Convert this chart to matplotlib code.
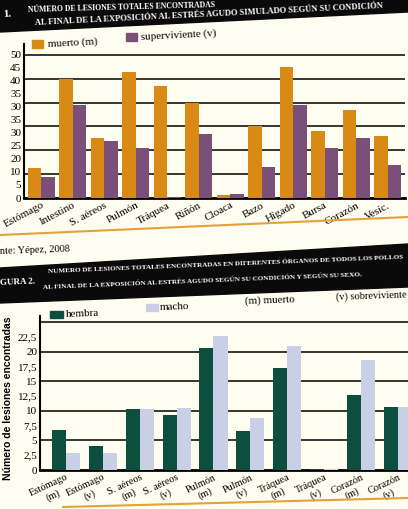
import numpy as np
import matplotlib.pyplot as plt
from matplotlib.patches import Polygon, Rectangle

W, H = 408, 509

# Figura 1: lesiones por organo segun condicion
organos = ["Estómago", "Intestino", "S. aéreos", "Pulmón", "Tráquea", "Riñón",
           "Cloaca", "Bazo", "Hígado", "Bursa", "Corazón", "Vesíc."]
muerto = [12.5, 50, 25, 53, 47, 40, 1.4, 30, 55, 28, 37, 26]
superviviente = [9, 39, 24, 21, 0.6, 27, 1.8, 13, 39, 21, 25, 14]
ticks1 = ["0", "5", "10", "20", "25", "30", "35", "30", "35", "40", "45", "50"]
rejilla1 = [10, 20, 30, 40, 50, 60]

# Figura 2: lesiones por organo segun condicion y sexo
grupos = ["Estómago\n(m)", "Estómago\n(v)", "S. aéreos\n(m)", "S. aéreos\n(v)",
          "Pulmón\n(m)", "Pulmón\n(v)", "Tráquea\n(m)", "Tráquea\n(v)",
          "Corazón\n(m)", "Corazón\n(v)"]
hembra = [6.8, 4.0, 10.3, 9.3, 20.6, 6.6, 17.2, 0.2, 12.6, 10.6]
macho = [2.9, 2.8, 10.3, 10.4, 22.6, 8.8, 21.0, 0.2, 18.5, 10.7]
ticks2 = ["0", "2,5", "5", "7,5", "10", "12,5", "15", "17,5", "20", "22,5"]
rejilla2 = [5, 10, 15, 20, 25]

NARANJA = "#d98a14"
MORADO = "#7a5079"
VERDE = "#0d4f3f"
LILA = "#c9cfe4"
CREMA = "#fffdf0"

plt.rcParams["font.family"] = ["Liberation Serif", "DejaVu Serif"]


def caja(x0, y0, x1, y1):
    # caja en pixeles (origen arriba a la izquierda) -> fraccion de figura
    return [x0 / W, 1 - y1 / H, (x1 - x0) / W, (y1 - y0) / H]


def estilo(ax, rejilla):
    ax.set_facecolor(CREMA)
    for lado in ["top", "right"]:
        ax.spines[lado].set_visible(False)
    ax.spines["left"].set_linewidth(1.5)
    ax.spines["bottom"].set_linewidth(2)
    x0, x1 = ax.get_xlim()
    ax.hlines(rejilla, x0, x1, colors="black", linewidth=1.1, zorder=2)
    ax.set_xlim(x0, x1)
    ax.tick_params(length=0, pad=2, labelsize=8)


fig = plt.figure(figsize=(W / 100, H / 100), dpi=100)
fig.patch.set_facecolor(CREMA)

# ---- grafico 1
ax1 = fig.add_axes(caja(24, 44, 405, 198))
x1 = np.arange(len(organos))
ax1.bar(x1 - 0.215, muerto, 0.43, color=NARANJA, zorder=3)
ax1.bar(x1 + 0.215, superviviente, 0.43, color=MORADO, zorder=3)
ax1.set_xlim(-0.55, len(organos) - 0.45)
ax1.set_ylim(0, 64.6)
estilo(ax1, rejilla1)
ax1.set_yticks(np.linspace(0, 60, 12), ticks1)
ax1.set_xticks(x1, organos, rotation=28, ha="right", rotation_mode="anchor", fontsize=8)

# ---- grafico 2
ax2 = fig.add_axes(caja(40, 316, 408, 470))
x2 = np.arange(len(grupos))
ax2.bar(x2 - 0.19, hembra, 0.38, color=VERDE, zorder=3)
ax2.bar(x2 + 0.19, macho, 0.38, color=LILA, zorder=3)
ax2.set_xlim(-0.7, 9.27)
ax2.set_ylim(0, 26)
estilo(ax2, rejilla2)
ax2.set_yticks(np.arange(0, 22.6, 2.5), ticks2)
ax2.set_xticks(x2, grupos, rotation=25, ha="right", va="top",
               rotation_mode="anchor", multialignment="center", fontsize=7.5)

# ---- adornos de pagina
deco = fig.add_axes([0, 0, 1, 1], zorder=5)
deco.set_xlim(0, W)
deco.set_ylim(H, 0)
deco.axis("off")

deco.text(8, 480, "Número de lesiones encontradas", rotation=90, ha="center",
          va="bottom", fontsize=7.5, fontweight="bold", family="Liberation Sans",
          zorder=1)

deco.add_patch(Polygon([(0, 0), (W, 0), (W, 12), (0, 32)], color="#0a0a0a", zorder=3))
deco.add_patch(Polygon([(0, 268), (W, 244), (W, 287), (0, 303)], color="#0a0a0a", zorder=3))

blanco = dict(color="white", fontweight="bold", ha="left", va="center",
              rotation_mode="anchor", zorder=4)
deco.text(3, 15, "1.", fontsize=8, rotation=3, **blanco)
deco.text(28, 10, "NÚMERO DE LESIONES TOTALES ENCONTRADAS",
          fontsize=5.6, rotation=1.5, **blanco)
deco.text(35, 23, "AL FINAL DE LA EXPOSICIÓN AL ESTRÉS AGUDO SIMULADO SEGÚN SU CONDICIÓN",
          fontsize=6.1, rotation=2.8, **blanco)
deco.text(0, 283, "GURA 2.", fontsize=6.5, rotation=2.5, **blanco)
deco.text(48, 271, "NUMERO DE LESIONES TOTALES ENCONTRADAS EN DIFERENTES ÓRGANOS DE TODOS LOS POLLOS",
          fontsize=5.1, rotation=2.3, **blanco)
deco.text(43, 287, "AL FINAL DE LA EXPOSICIÓN AL ESTRÉS AGUDO SEGÚN SU CONDICIÓN Y SEGÚN SU SEXO.",
          fontsize=5.1, rotation=2.3, **blanco)

deco.plot([0, W], [235, 217], color="#e3a23a", lw=1.5, zorder=2)
deco.plot([63, W], [507, 498], color="#e3a23a", lw=1.5, zorder=2)
deco.text(0, 250, "nte: Yépez, 2008", fontsize=7.5, ha="left", va="center", rotation=2)

# leyendas
deco.add_patch(Rectangle((32, 40), 11, 8, color=NARANJA))
deco.text(47, 43, "muerto (m)", fontsize=8, ha="left", va="center", rotation=3)
deco.add_patch(Rectangle((126, 33), 11, 8, color=MORADO))
deco.text(140, 35, "superviviente (v)", fontsize=8, ha="left", va="center", rotation=3)

deco.add_patch(Rectangle((50, 311), 13, 7, color=VERDE))
deco.text(66, 314, "hembra", fontsize=8, ha="left", va="center", rotation=2)
deco.add_patch(Rectangle((146, 304), 12, 7, color=LILA))
deco.text(160, 307, "macho", fontsize=8, ha="left", va="center", rotation=2)
deco.text(245, 300, "(m) muerto", fontsize=8, ha="left", va="center", rotation=2)
deco.text(336, 296, "(v) sobreviviente", fontsize=7.5, ha="left", va="center", rotation=2)

fig.savefig("out.png", dpi=100, facecolor=CREMA)
